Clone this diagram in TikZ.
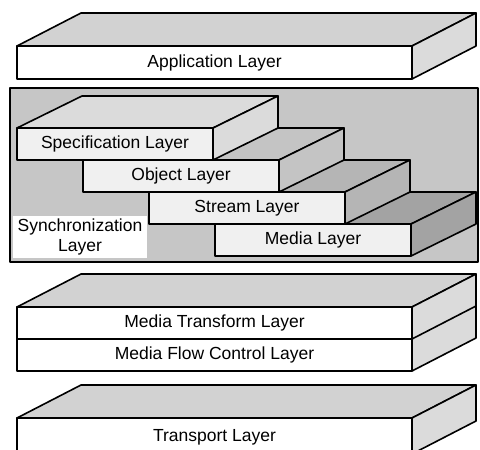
\documentclass[tikz,border=0pt]{standalone}
\usepackage{fontspec}
\setmainfont{Liberation Sans}
\begin{document}
\begin{tikzpicture}[x=1pt,y=-1pt,line width=1.6pt,line join=round,
  every node/.style={font=\fontsize{17.5}{20}\selectfont},
  frontface/.style={draw,fill=white},
  topface/.style={draw,fill=gray!35},
  sideface/.style={draw,fill=gray!28},
  stairface/.style={draw,fill=gray!12}]
\useasboundingbox (0,0) rectangle (480,450);

% application slab
\filldraw[topface] (17,46) -- (81,13) -- (476,13) -- (412,46) -- cycle;
\filldraw[sideface] (412,46) -- (476,13) -- (476,46) -- (412,79) -- cycle;
\filldraw[frontface] (17,46) rectangle (412,79);
\node (app) at (214.5,62.5) {Application Layer};

% synchronization block with its four steps
\filldraw[fill=gray!45] (10,88) rectangle (478,262);

\filldraw[draw,fill=gray!72] (215,224) -- (280,192) -- (476,192) -- (411,224) -- cycle;
\filldraw[draw,fill=gray!72] (411,224) -- (476,192) -- (476,224) -- (411,256) -- cycle;
\filldraw[stairface] (215,224) rectangle (411,256);

\filldraw[draw,fill=gray!58] (149,192) -- (214,160) -- (410,160) -- (345,192) -- cycle;
\filldraw[draw,fill=gray!58] (345,192) -- (410,160) -- (410,192) -- (345,224) -- cycle;
\filldraw[stairface] (149,192) rectangle (345,224);

\filldraw[draw,fill=gray!46] (83,160) -- (148,128) -- (344,128) -- (279,160) -- cycle;
\filldraw[draw,fill=gray!46] (279,160) -- (344,128) -- (344,160) -- (279,192) -- cycle;
\filldraw[stairface] (83,160) rectangle (279,192);

\filldraw[draw,fill=gray!28] (17,128) -- (82,96) -- (278,96) -- (213,128) -- cycle;
\filldraw[draw,fill=gray!28] (213,128) -- (278,96) -- (278,128) -- (213,160) -- cycle;
\filldraw[stairface] (17,128) rectangle (213,160);

\node (spec) at (115,144) {Specification Layer};
\node (obj) at (181,176) {Object Layer};
\node (stream) at (247,208) {Stream Layer};
\node (media) at (313,240) {Media Layer};
\node[fill=white,align=center,inner xsep=5pt,inner ysep=3pt] (sync) at (80,237) {Synchronization\\Layer};

% media transform / flow control slab
\filldraw[topface] (17,307) -- (81,274) -- (476,274) -- (412,307) -- cycle;
\filldraw[sideface] (412,307) -- (476,274) -- (476,338) -- (412,371) -- cycle;
\draw (412,339) -- (476,306);
\filldraw[frontface] (17,307) rectangle (412,371);
\draw (17,339) -- (412,339);
\node (mtl) at (214.5,323) {Media Transform Layer};
\node (mfc) at (214.5,355) {Media Flow Control Layer};

% transport slab
\filldraw[topface] (17,418) -- (81,385) -- (476,385) -- (412,418) -- cycle;
\filldraw[sideface] (412,418) -- (476,385) -- (476,421) -- (412,454) -- cycle;
\filldraw[frontface] (17,418) rectangle (412,454);
\node (trans) at (214.5,437) {Transport Layer};
\end{tikzpicture}
\end{document}
